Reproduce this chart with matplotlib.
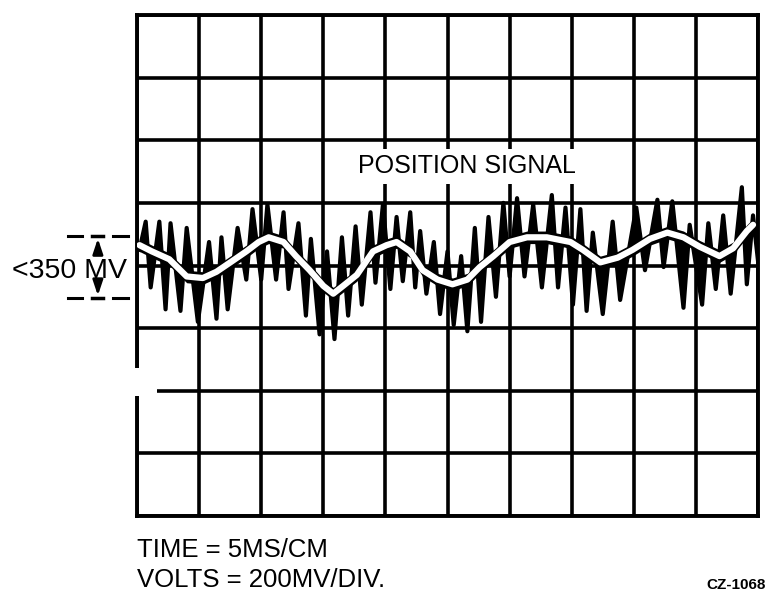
import numpy as np
import matplotlib
matplotlib.use("Agg")
import matplotlib.pyplot as plt
from matplotlib.patches import Rectangle

plt.rcParams['font.family'] = ['Liberation Sans', 'DejaVu Sans']

# scope screen: 10 div x 8 div, 5 ms/div and 200 mV/div
t_max = 50.0
v_max = 800.0

# raw trace, alternating spike tips (ms, mV)
trace_t = [0.2, 0.7, 1.1, 1.8, 2.3, 2.7, 3.5, 4.0, 4.9, 5.8,
           6.4, 6.8, 7.3, 8.1, 8.8, 9.3, 10.0, 10.5, 11.2, 11.8,
           12.2, 13.0, 13.6, 14.0, 14.7, 15.3, 15.9, 16.5, 17.0, 17.6,
           18.1, 18.8, 19.2, 19.8, 20.4, 20.9, 21.4, 22.0, 22.4, 22.8,
           23.3, 23.9, 24.4, 25.0, 25.5, 26.1, 26.6, 27.2, 27.7, 28.3,
           28.9, 29.5, 30.0, 30.6, 31.2, 31.9, 32.6, 33.4, 33.9, 34.5,
           35.1, 35.7, 36.2, 36.7, 37.5, 38.3, 38.9, 40.2, 40.9, 41.9,
           42.4, 43.1, 44.0, 44.5, 45.5, 46.0, 46.6, 47.2, 47.8, 48.7,
           49.1, 49.6, 50.0]
trace_mv = [50, 140, -70, 140, -140, 135, -145, 120, -180, 75,
            -170, 90, -140, 120, -45, 180, -45, 195, -45, 170,
            -75, 135, -160, 85, -220, 45, -235, 90, -160, 125,
            -125, 170, -55, 195, -75, 155, -50, 170, -70, 110,
            -90, 75, -155, 45, -190, 30, -210, 120, -180, 155,
            -100, 200, -35, 215, -35, 195, -70, 225, -70, 185,
            -125, 180, -145, 105, -155, 140, -110, 185, -15, 210,
            -5, 205, -135, 130, -125, 135, -75, 160, -90, 250,
            -60, 160, 15]

# position signal (the white curve riding on the trace)
pos_t = [0.2, 1.2, 2.6, 4.0, 5.3, 6.4, 7.7, 8.8, 9.8, 10.6,
         11.8, 12.8, 13.9, 15.0, 15.8, 16.6, 17.7, 19.0, 20.1, 20.9,
         22.0, 23.0, 24.2, 25.4, 26.6, 27.6, 28.7, 30.0, 31.4, 33.0,
         34.9, 35.9, 37.3, 38.7, 39.9, 41.3, 42.7, 44.0, 45.3, 46.9,
         48.0, 49.1, 49.6]
pos_mv = [65, 45, 20, -35, -40, -20, 15, 45, 75, 90,
          75, 30, -15, -65, -90, -65, -30, 45, 65, 75,
          45, -15, -45, -60, -45, -5, 30, 75, 90, 90,
          75, 50, 10, 25, 50, 85, 105, 90, 60, 30,
          55, 110, 130]

fig = plt.figure(figsize=(7.66, 5.92), dpi=100)
ax = fig.add_axes([137/766, 76/592, 621/766, 501/592])
ax.set_xlim(0, t_max)
ax.set_ylim(-v_max, v_max)
ax.set_xticks(np.arange(0, t_max + 1, 5))
ax.set_yticks(np.arange(-v_max, v_max + 1, 200))
ax.tick_params(length=0, labelbottom=False, labelleft=False)
ax.grid(True, color='black', lw=2.6)
ax.set_axisbelow(True)
for s in ax.spines.values():
    s.set_linewidth(2.8)

# spikes: fill between the raw trace and the position signal,
# plus a thin dark smear along the position signal
base = np.interp(trace_t, pos_t, pos_mv)
ax.fill_between(trace_t, trace_mv, base, color='black', lw=0, zorder=2)
ax.plot(trace_t, trace_mv, color='black', lw=3.0, zorder=2)
ax.fill_between(pos_t, np.array(pos_mv) - 20, np.array(pos_mv) + 20,
                color='black', lw=0, zorder=2)
ax.plot(pos_t, pos_mv, color='white', lw=4.5, solid_capstyle='round',
        solid_joinstyle='round', zorder=3)

ax.text(26.6, 295, 'POSITION SIGNAL', fontsize=18, ha='center', va='baseline',
        zorder=4, bbox=dict(facecolor='white', edgecolor='none', pad=4))

# scan defect on the left edge
ax.add_patch(Rectangle((-0.5, -417), 2.15, 90, facecolor='white',
                       edgecolor='none', clip_on=False, zorder=6))

# amplitude marker on the left
for yy in (95, -105):
    ax.plot([-5.56, -4.43], [yy, yy], color='black', lw=2.2, clip_on=False)
    ax.plot([-1.93, -0.72], [yy, yy], color='black', lw=2.2, clip_on=False)
    ax.plot([-3.6, -2.7], [yy, yy], color='black', lw=2.5, clip_on=False)
ax.annotate('', xy=(-3.15, 95), xytext=(-3.15, 30), annotation_clip=False,
            arrowprops=dict(arrowstyle='-|>,head_length=0.9,head_width=0.3',
                            color='black', lw=2))
ax.annotate('', xy=(-3.15, -105), xytext=(-3.15, -55), annotation_clip=False,
            arrowprops=dict(arrowstyle='-|>,head_length=0.9,head_width=0.3',
                            color='black', lw=2))
ax.text(-10.06, -41, '<350 MV', fontsize=20.5, ha='left', va='baseline')

fig.text(137/766, 35/592, 'TIME = 5MS/CM', fontsize=18.5, ha='left', va='baseline')
fig.text(137/766, 5/592, 'VOLTS = 200MV/DIV.', fontsize=18.5, ha='left', va='baseline')
fig.text(1.0, 3/592, 'CZ-1068', fontsize=11, fontweight='bold', ha='right',
         va='baseline')

fig.savefig('out.png', dpi=100)
